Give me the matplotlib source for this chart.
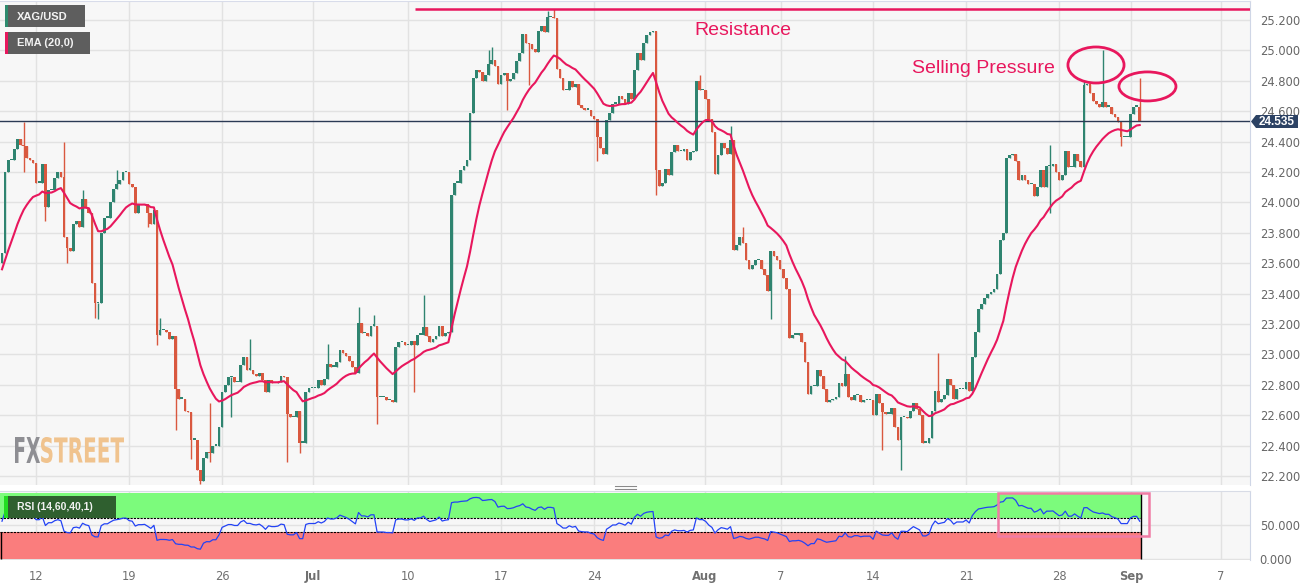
import numpy as np
import matplotlib
matplotlib.use("Agg")
import matplotlib.pyplot as plt
from matplotlib.patches import Rectangle, Ellipse, PathPatch, Polygon
from matplotlib.textpath import TextPath
from matplotlib.font_manager import FontProperties
from matplotlib.transforms import Affine2D

plt.rcParams['font.family'] = ['Liberation Sans', 'DejaVu Sans']

W, H = 1315, 586

# --- data: XAG/USD 4h closes (Jun 9 - Sep 1) ---
open_first = 23.60
closes_jun_a = [23.67, 24.20, 24.28, 24.28, 24.35, 24.42, 24.38, 24.37, 24.29, 24.28,
                24.26, 24.13, 24.13, 24.25, 23.97, 24.08, 24.08, 24.16, 24.20, 24.17,
                23.77, 23.70, 23.68, 23.86, 23.88, 23.84, 24.02, 23.96, 23.93, 23.47,
                23.34, 23.34, 23.80, 23.90, 23.90, 24.00, 24.09, 24.12, 24.15, 24.20,
                24.20, 24.12, 24.10, 23.93, 23.98, 23.98, 23.99, 23.93, 23.86, 23.95]
closes_jun_b = [23.13, 23.16, 23.16, 23.15, 23.10, 23.12, 22.77, 22.71, 22.71, 22.63,
                22.62, 22.44, 22.44, 22.24, 22.17, 22.32, 22.36, 22.35, 22.40, 22.40,
                22.52, 22.75, 22.80, 22.85, 22.85, 22.82, 22.82, 22.93, 22.98, 22.90,
                22.90, 22.87, 22.86, 22.88, 22.83, 22.75, 22.83, 22.81, 22.81, 22.82,
                22.86, 22.85, 22.61, 22.59, 22.59, 22.63, 22.42, 22.42, 22.75, 22.78,
                22.78, 22.78, 22.83, 22.80, 22.84, 22.94, 22.92, 22.92, 22.95, 23.03,
                23.01, 22.99, 22.96, 22.92, 22.88, 23.21, 23.14, 23.14, 23.12, 23.19,
                23.19, 22.72, 22.72, 22.72, 22.70, 22.70, 22.69, 23.05, 23.08, 23.08,
                23.06, 23.06, 23.09, 23.06, 23.13, 23.13, 23.18, 23.12, 23.08, 23.10,
                23.12, 23.19, 23.12, 23.14, 23.15]
closes_jul = [24.05, 24.13, 24.13, 24.21, 24.24, 24.28, 24.59, 24.82, 24.87, 24.86,
              24.80, 24.84, 24.91, 24.94, 24.90, 24.78, 24.84, 24.85, 24.80, 24.81,
              24.85, 24.93, 24.98, 25.11, 25.05, 25.04, 25.01, 24.99, 25.13, 25.16,
              25.12, 25.22, 25.22, 25.21, 24.88, 24.82, 24.74, 24.74, 24.80, 24.76,
              24.78, 24.64, 24.62, 24.61, 24.61, 24.57, 24.55, 24.43, 24.36, 24.32,
              24.54, 24.59, 24.65, 24.65, 24.70, 24.68, 24.65, 24.72, 24.68, 24.87,
              24.98, 24.94, 25.05, 25.10, 25.12, 25.13]
closes_aug_a = [24.21, 24.11, 24.13, 24.22, 24.18, 24.33, 24.38, 24.34, 24.34, 24.35,
                24.28, 24.33, 24.34, 24.80, 24.74, 24.74, 24.68, 24.55, 24.46, 24.19,
                24.31, 24.39, 24.36, 24.32, 24.41, 23.69, 23.72, 23.77, 23.73, 23.62,
                23.56, 23.59, 23.62, 23.62, 23.56, 23.52, 23.42, 23.68, 23.65, 23.62,
                23.56, 23.50, 23.43, 23.11, 23.13, 23.13, 23.14, 23.08, 22.95, 22.74,
                22.79, 22.79, 22.90, 22.86, 22.77, 22.69, 22.70, 22.71, 22.72, 22.81,
                22.79, 22.87, 22.72, 22.70, 22.73, 22.73, 22.69, 22.70, 22.70, 22.70,
                22.60, 22.74, 22.68, 22.62, 22.61, 22.61, 22.65, 22.52, 22.44, 22.59,
                22.59, 22.58, 22.63, 22.68, 22.64, 22.60, 22.42, 22.42, 22.45, 22.63,
                22.76, 22.69, 22.71, 22.73, 22.84, 22.80]
closes_aug_b = [22.71, 22.77, 22.77, 22.77, 22.82, 22.76, 22.98, 23.15, 23.30, 23.33,
                23.37, 23.40, 23.41, 23.43, 23.53, 23.75, 23.80, 24.29, 24.31, 24.32,
                24.27, 24.15, 24.18, 24.15, 24.12, 24.12, 24.04, 24.10, 24.21, 24.10,
                24.24, 24.24, 24.25, 24.20, 24.15, 24.18, 24.34, 24.23, 24.23, 24.32,
                24.27, 24.23, 24.77, 24.78, 24.72, 24.67, 24.65, 24.63, 24.66, 24.63,
                24.63, 24.58, 24.56, 24.53, 24.43, 24.43, 24.43, 24.58, 24.63, 24.63,
                24.535]

# notable wicks (candle index, price)
wick_hi_idx = [7, 20, 26, 37, 51, 67, 80, 105, 115, 120, 136, 157, 158, 176, 178,
               225, 235, 239, 272, 302, 338, 349, 355, 367]
wick_hi_val = [24.53, 24.40, 24.08, 24.21, 23.24, 22.68, 23.10, 23.07, 23.31, 23.26, 23.39, 25.00, 25.02, 25.26, 25.27,
               24.84, 24.50, 23.84, 22.99, 23.01, 24.38, 24.80, 25.00, 24.82]
wick_lo_idx = [7, 14, 21, 30, 31, 47, 50, 56, 61, 64, 67, 74, 92, 96, 121, 133,
               163, 170, 192, 211, 248, 284, 290, 338, 361]
wick_lo_val = [24.20, 23.88, 23.60, 23.24, 23.23, 23.84, 23.06, 22.50, 22.31, 22.15, 22.29, 22.59, 22.29, 22.35, 22.54, 22.75,
               24.61, 24.77, 24.27, 24.05, 23.23, 22.37, 22.24, 23.93, 24.37]

ema_start = 23.56            # EMA value at the left edge of the chart
rsi_seed_gain, rsi_seed_loss = 0.05, 0.04

last_price = 24.535
resistance = 25.272

tick_labels = ['12', '19', '26', 'Jul', '10', '17', '24', 'Aug', '7', '14', '21', '28', 'Sep', '7']
tick_pos = [11.0, 41.0, 71.0, 100.3, 131.0, 161.0, 191.0, 226.8, 251.3, 281.0, 311.0, 341.0, 364.2, 393.2]

closes = np.array(closes_jun_a + closes_jun_b + closes_jul + closes_aug_a + closes_aug_b)
n = len(closes)
x = np.arange(n)
opens = np.r_[open_first, closes[:-1]]
highs = np.maximum(opens, closes)
lows = np.minimum(opens, closes)
for i, v in zip(wick_hi_idx, wick_hi_val):
    highs[i] = max(highs[i], v)
for i, v in zip(wick_lo_idx, wick_lo_val):
    lows[i] = min(lows[i], v)

# EMA 20
alpha = 2 / 21
ema = np.empty(n)
prev = ema_start
for i, c in enumerate(closes):
    prev = prev + alpha * (c - prev) if i > 0 else prev
    ema[i] = prev

# RSI 14 (Wilder)
ag, al = rsi_seed_gain, rsi_seed_loss
rsi = np.empty(n)
for i in range(n):
    if i > 0:
        d = closes[i] - closes[i - 1]
        ag = (ag * 13 + max(d, 0)) / 14
        al = (al * 13 + max(-d, 0)) / 14
    rsi[i] = 100 - 100 / (1 + ag / al)

# --- layout helpers (pixels -> figure fraction) ---
def fx(px):
    return px / W

def fy(py):
    return 1 - py / H

GREEN = '#2F8470'
RED = '#D9583F'
CRIMSON = '#E8175D'
TICKFONT = dict(family='DejaVu Sans', size=8.3)

fig = plt.figure(figsize=(W / 100, H / 100), dpi=100)
fig.patch.set_facecolor('white')

xl = (-0.645, 402.58)
ax = fig.add_axes([0, fy(485), fx(1250), (485 - 1) / H])
ax.set_facecolor('#F7F7F7')
ax.set_xlim(*xl)
ax.set_ylim(22.141, 25.325)
ax.set_xticks(tick_pos)
ax.set_yticks(np.round(np.arange(22.2, 25.21, 0.2), 1))
ax.set_yticklabels(['%.3f' % v for v in np.arange(22.2, 25.21, 0.2)], fontdict=TICKFONT)
ax.yaxis.tick_right()
ax.tick_params(axis='y', length=0, pad=7, labelcolor='#666666')
ax.tick_params(axis='x', length=0, labelbottom=False)
ax.grid(color='#E2E2E2', lw=1)
ax.set_axisbelow(True)
for s in ax.spines.values():
    s.set_visible(False)
ax.spines['right'].set_visible(True)
ax.spines['right'].set_color('#CFD6E6')
ax.spines['top'].set_visible(True)
ax.spines['top'].set_color('#D8DCEA')

cols = np.where(closes >= opens, GREEN, RED)
ax.vlines(x, lows, highs, colors=cols, lw=1, zorder=2)
ax.bar(x, np.maximum(np.abs(closes - opens), 0.008), bottom=np.minimum(opens, closes),
       width=0.86, color=cols, lw=0, zorder=3)
ax.plot(x, ema, color=CRIMSON, lw=1.5, zorder=4)

ax.axhline(last_price, color='#2B3A55', lw=1, zorder=3)
ax.hlines(resistance, 133.2, xl[1], color=CRIMSON, lw=1.8, zorder=4)
ax.text(223.2, 25.128, 'Resistance', color=CRIMSON, fontsize=14, va='center', ha='left')
ax.text(293.5, 24.884, 'Selling Pressure', color=CRIMSON, fontsize=14, va='center', ha='left')
ax.add_patch(Ellipse((352.9, 24.904), 18.1, 0.237, fill=False, ec=CRIMSON, lw=2, zorder=5))
ax.add_patch(Ellipse((369.5, 24.763), 18.4, 0.191, fill=False, ec=CRIMSON, lw=2, zorder=5, clip_on=False))

# --- RSI panel ---
ax2 = fig.add_axes([0, fy(560), fx(1250), 69 / H])
ax2.set_facecolor('#F7F7F7')
ax2.set_xlim(*xl)
ax2.set_ylim(-1.47, 100)
ax2.set_xticks(tick_pos)
ax2.set_xticklabels(tick_labels, fontdict=TICKFONT)
ax2.set_yticks([0, 50])
ax2.set_yticklabels(['0.000', '50.000'], fontdict=TICKFONT)
ax2.yaxis.tick_right()
ax2.tick_params(axis='y', length=0, pad=7, labelcolor='#666666')
ax2.tick_params(axis='x', length=0, pad=7, labelcolor='#707070')
for lab in ax2.get_xticklabels():
    if lab.get_text() in ('Jul', 'Aug', 'Sep'):
        lab.set_fontweight('bold')
ax2.grid(color='#E2E2E2', lw=1)
ax2.set_axisbelow(True)
for s in ax2.spines.values():
    s.set_visible(False)
ax2.spines['right'].set_visible(True)
ax2.spines['right'].set_color('#CFD6E6')
ax2.spines['top'].set_visible(True)
ax2.spines['top'].set_color('#D8DCE6')

band_end = x[-1] + 0.36
ax2.fill_between([xl[0], band_end], 60, 97.5, color='#7CFB7C', lw=0, zorder=1)
ax2.fill_between([xl[0], band_end], 0, 40, color='#FA7D7D', lw=0, zorder=1)
ax2.hlines([40, 60], xl[0], band_end, colors='black', linestyles=(0, (2, 1)), lw=0.8, zorder=2)
ax2.vlines(band_end, 0, 97.5, colors='black', lw=1, zorder=2)
ax2.vlines(xl[0] + 0.35, 0, 40, colors='black', lw=1, zorder=2)
ax2.plot(x, rsi, color='#2343F5', lw=0.9, zorder=3)

# --- overlays in figure pixels ---
def box(x0, y0, x1, y1, **kw):
    r = Rectangle((fx(x0), fy(y1)), fx(x1) - fx(x0), fy(y0) - fy(y1),
                  transform=fig.transFigure, **kw)
    fig.add_artist(r)

box(5, 5, 85, 27, fc='#5E5E5E', ec='none', zorder=5)
box(5, 5, 7.7, 27, fc='#2E8B6E', ec='none', zorder=6)
fig.text(fx(17), fy(16.5), 'XAG/USD', color='#F2F2F2', fontsize=8, weight='bold', va='center', zorder=7)
box(5, 32, 90, 54, fc='#5E5E5E', ec='none', zorder=5)
box(5, 32, 7.7, 54, fc=CRIMSON, ec='none', zorder=6)
fig.text(fx(17), fy(43.5), 'EMA (20,0)', color='#F2F2F2', fontsize=8, weight='bold', va='center', zorder=7)

box(4, 496, 116, 518, fc='#2F5F2F', ec='none', zorder=5)
box(4, 496, 7.6, 518, fc='#22DD22', ec='none', zorder=6)
fig.text(fx(17), fy(507.5), 'RSI (14,60,40,1)', color='#F2F2F2', fontsize=7.5, weight='bold', va='center', zorder=7)

box(998, 492.7, 1149, 536, fill=False, ec='#F07CA5', lw=1.8, zorder=6)

# last price tag
fig.add_artist(Polygon([[fx(1251), fy(121.5)], [fx(1256), fy(115)], [fx(1256), fy(128)]],
                       closed=True, fc='#2C4264', ec='none', transform=fig.transFigure, zorder=8))
box(1256, 115, 1298, 128, fc='#2C4264', ec='none', zorder=8)
fig.text(fx(1276.5), fy(121.8), '%.3f' % last_price, color='white', fontsize=8.5, weight='bold',
         ha='center', va='center', zorder=9)

# panel separator handle
for yy in (485.5, 488.5):
    fig.add_artist(plt.Line2D([fx(615), fx(636)], [fy(yy), fy(yy)], color='#8A8A8A', lw=0.8,
                              transform=fig.transFigure))

# watermark
def word(text, color, x0, x1, y0, y1):
    tp = TextPath((0, 0), text, size=100, prop=FontProperties(family='DejaVu Sans', weight='bold'))
    bb = tp.get_extents()
    tr = (Affine2D().translate(-bb.x0, -bb.y0)
          .scale((x1 - x0) / bb.width / W, (y1 - y0) / bb.height / H)
          .translate(fx(x0), fy(y1)))
    fig.add_artist(PathPatch(tr.transform_path(tp), fc=color, ec='none',
                             transform=fig.transFigure, zorder=1.5))

word('FX', '#8E8E93', 15, 40, 437, 463)
word('STREET', '#F0C38E', 41, 124, 437, 463)

fig.savefig('out.png', dpi=100, facecolor='white')
